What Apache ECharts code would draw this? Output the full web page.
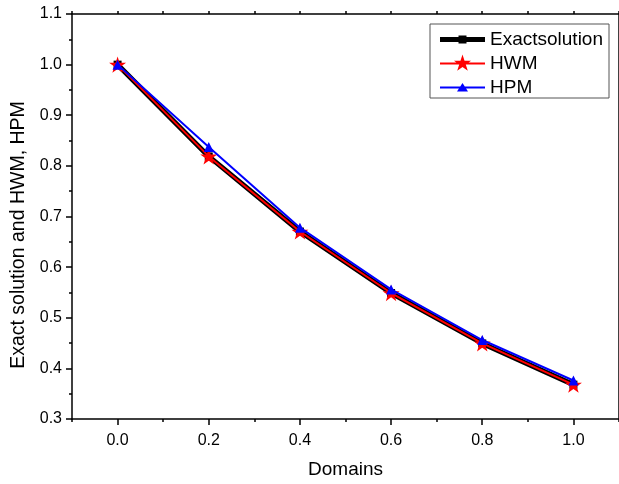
<!DOCTYPE html>
<html>
<head>
<meta charset="utf-8">
<script src="https://cdn.jsdelivr.net/npm/echarts@6/dist/echarts.min.js"></script>
<style>html,body{margin:0;padding:0;background:#fff}#c{width:619px;height:484px}</style>
</head>
<body>
<div id="c"></div>
<script>
var xValues = [0.0, 0.2, 0.4, 0.6, 0.8, 1.0];
var exactValues = [1.0, 0.8187, 0.6703, 0.5488, 0.4493, 0.3679];
var hwmValues = [1.0, 0.8187, 0.6703, 0.5488, 0.4493, 0.3679];
var hpmValues = [1.0, 0.8375, 0.678, 0.556, 0.456, 0.376];
var xMajorTicks = [0.0, 0.2, 0.4, 0.6, 0.8, 1.0];
var xMinorTicks = [-0.1, 0.1, 0.3, 0.5, 0.7, 0.9, 1.1];
var xTopTicks = [-0.1, 0.0, 0.1, 0.2, 0.3, 0.4, 0.5, 0.6, 0.7, 0.8, 0.9, 1.0, 1.1];
var seriesNames = ['Exactsolution', 'HWM', 'HPM'];

function pairs(xs, ys){ return xs.map(function(x,i){ return [x, ys[i]]; }); }

var FONT = 'Liberation Sans, Arial, sans-serif';
var STAR = 'path://M100,0L122.45,69.1L195.1,69.1L136.3,111.8L158.8,180.9L100,138.2L41.2,180.9L63.7,111.8L4.9,69.1L77.55,69.1Z';
var BOX = ' M0,0 L0,0 M45,18 L45,18';
var ICON_EXACT = 'path://M0,6.5 L45,6.5 L45,11.5 L0,11.5 Z M18.5,5 L26.5,5 L26.5,13 L18.5,13 Z' + BOX;
var ICON_HWM = 'path://M0,8 L45,8 L45,10 L0,10 Z M22.5,0 L24.52,6.22 L31.06,6.22 L25.77,10.06 L27.79,16.28 L22.5,12.44 L17.21,16.28 L19.23,10.06 L13.94,6.22 L20.48,6.22 Z' + BOX;
var ICON_HPM = 'path://M0,8 L45,8 L45,10 L0,10 Z M22.5,4.5 L28,13 L17,13 Z' + BOX;
var axisLine = {show: true, onZero: false, lineStyle: {color: '#000', width: 1.5}};

var chart = echarts.init(document.getElementById('c'), null, {renderer: 'canvas'});
chart.setOption({
  animation: false,
  backgroundColor: '#fff',
  grid: {left: 72, top: 14, width: 550, height: 409, containLabel: false},
  legend: {
    orient: 'vertical',
    left: 430, top: 24,
    padding: [6, 6, 1, 10],
    itemGap: 5,
    itemWidth: 45, itemHeight: 18,
    symbolKeepAspect: false,
    borderColor: '#555', borderWidth: 1,
    itemStyle: {borderWidth: 0},
    textStyle: {fontFamily: FONT, fontSize: 19, color: '#000'},
    data: [
      {name: seriesNames[0], icon: ICON_EXACT, itemStyle: {color: '#000', borderWidth: 0}},
      {name: seriesNames[1], icon: ICON_HWM, itemStyle: {color: '#ff0000', borderWidth: 0}},
      {name: seriesNames[2], icon: ICON_HPM, itemStyle: {color: '#0000ff', borderWidth: 0}}
    ]
  },
  xAxis: [
    {
      type: 'value', min: -0.1, max: 1.1, position: 'bottom',
      name: 'Domains', nameLocation: 'middle', nameGap: 41,
      nameTextStyle: {fontFamily: FONT, fontSize: 19, color: '#000'},
      axisLine: axisLine,
      axisTick: {show: true, customValues: xMajorTicks, length: 6, inside: false, lineStyle: {color: '#000', width: 1.5}},
      axisLabel: {show: true, customValues: xMajorTicks, margin: 14, fontFamily: FONT, fontSize: 16, color: '#000',
        formatter: function(v){ return Number(v).toFixed(1); }},
      splitLine: {show: false}
    },
    {
      type: 'value', min: -0.1, max: 1.1, position: 'bottom', gridIndex: 0,
      axisLine: {show: false},
      axisTick: {show: true, customValues: xMinorTicks, length: 3, lineStyle: {color: '#000', width: 1.5}},
      axisLabel: {show: false},
      splitLine: {show: false}
    },
    {
      type: 'value', min: -0.1, max: 1.1, position: 'top',
      axisLine: axisLine,
      axisTick: {show: true, customValues: xTopTicks, length: 3, inside: false, lineStyle: {color: '#000', width: 1.5}},
      axisLabel: {show: false},
      splitLine: {show: false}
    }
  ],
  yAxis: [
    {
      type: 'value', min: 0.3, max: 1.1, interval: 0.1,
      name: 'Exact solution and HWM, HPM', nameLocation: 'middle', nameGap: 36,
      nameTextStyle: {fontFamily: FONT, fontSize: 19.5, color: '#000', padding: [0, 37, 0, 0]},
      axisLine: axisLine,
      axisTick: {show: true, length: 6, lineStyle: {color: '#000', width: 1.5}},
      minorTick: {show: true, splitNumber: 2, length: 3, lineStyle: {color: '#000', width: 1.5}},
      axisLabel: {margin: 10, fontFamily: FONT, fontSize: 16, color: '#000',
        formatter: function(v){ return Number(v).toFixed(1); }},
      splitLine: {show: false}
    },
    {
      type: 'value', min: 0.3, max: 1.1, interval: 0.1, position: 'right',
      axisLine: axisLine,
      axisTick: {show: false}, axisLabel: {show: false}, splitLine: {show: false}
    }
  ],
  series: [
    {
      name: seriesNames[0], type: 'line', xAxisIndex: 0, yAxisIndex: 0,
      data: pairs(xValues, exactValues),
      symbol: 'rect', symbolSize: 8, showAllSymbol: true,
      lineStyle: {color: '#000', width: 5},
      itemStyle: {color: '#000'},
      z: 2
    },
    {
      name: seriesNames[1], type: 'line', xAxisIndex: 0, yAxisIndex: 0,
      data: pairs(xValues, hwmValues),
      symbol: STAR, symbolSize: 17, symbolKeepAspect: true, showAllSymbol: true,
      lineStyle: {color: '#ff0000', width: 2},
      itemStyle: {color: '#ff0000'},
      z: 3
    },
    {
      name: seriesNames[2], type: 'line', xAxisIndex: 0, yAxisIndex: 0,
      data: pairs(xValues, hpmValues),
      symbol: 'triangle', symbolSize: 10, showAllSymbol: true,
      lineStyle: {color: '#0000ff', width: 2},
      itemStyle: {color: '#0000ff'},
      z: 4
    }
  ]
});
</script>
</body>
</html>
